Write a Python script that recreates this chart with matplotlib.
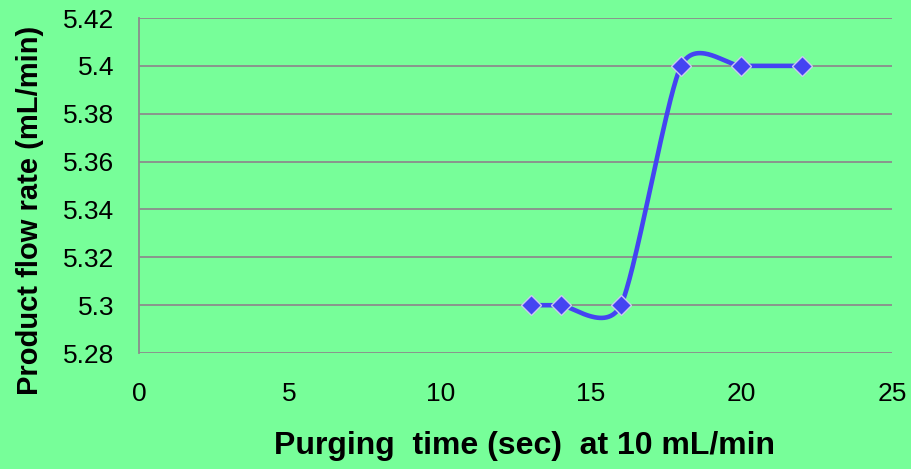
import numpy as np
import matplotlib
matplotlib.use("Agg")
import matplotlib.pyplot as plt

# Measured data
purge_time = [13, 14, 16, 18, 20, 22]
flow_rate = [5.30, 5.30, 5.30, 5.40, 5.40, 5.40]

x_ticks = [0, 5, 10, 15, 20, 25]
y_ticks = [5.28, 5.30, 5.32, 5.34, 5.36, 5.38, 5.40, 5.42]
y_tick_labels = ["5.28", "5.3", "5.32", "5.34", "5.36", "5.38", "5.4", "5.42"]

BG = "#77FE99"
LINE = "#4444F2"
GRID = "#8C8C8C"


def smooth_curve(xs, ys, k=0.12, n=60):
    """Piecewise cubic Bezier through the points (spreadsheet-style smoothing)."""
    p = np.column_stack([xs, ys]).astype(float)
    out = []
    m = len(p)
    for i in range(m - 1):
        p0 = p[i - 1] if i > 0 else p[i]
        p1 = p[i]
        p2 = p[i + 1]
        p3 = p[i + 2] if i + 2 < m else p[i + 1]
        c1 = p1 + k * (p2 - p0)
        c2 = p2 - k * (p3 - p1)
        t = np.linspace(0, 1, n)[:, None]
        seg = ((1 - t) ** 3) * p1 + 3 * ((1 - t) ** 2) * t * c1 \
            + 3 * (1 - t) * t ** 2 * c2 + t ** 3 * p2
        out.append(seg if i == 0 else seg[1:])
    arr = np.vstack(out)
    return arr[:, 0], arr[:, 1]


plt.rcParams["font.family"] = ["Liberation Sans", "DejaVu Sans"]

fig = plt.figure(figsize=(9.11, 4.69), dpi=100, facecolor=BG)
ax = fig.add_axes([0.1526, 0.2473, 0.979 - 0.1526, 0.9616 - 0.2473])
ax.set_facecolor(BG)

# Scale y so the Bezier is built in a visually even space
y_scale = (2393.0 / 30.1)
sx, sy = smooth_curve(np.array(purge_time, float),
                      np.array(flow_rate, float) * y_scale)
ax.plot(sx, sy / y_scale, color=LINE, lw=3.3, solid_capstyle="round", zorder=3)
ax.plot(purge_time, flow_rate, linestyle="none", marker="D", markersize=10.5,
        markerfacecolor=LINE, markeredgecolor="#C9C9EE", markeredgewidth=1.0,
        zorder=4)

ax.set_xlim(0, 25)
ax.set_ylim(5.28, 5.42)
ax.set_xticks(x_ticks)
ax.set_xticklabels([str(v) for v in x_ticks])
ax.set_yticks(y_ticks)
ax.set_yticklabels(y_tick_labels)

for yv in y_ticks:
    ax.axhline(yv, color=GRID, lw=1.3, zorder=1)

for side in ("top", "right", "bottom"):
    ax.spines[side].set_visible(False)
ax.spines["left"].set_color(GRID)
ax.spines["left"].set_linewidth(1.3)

ax.tick_params(axis="both", length=0, labelsize=19, colors="black")
ax.tick_params(axis="x", pad=21)
ax.tick_params(axis="y", pad=18)

ax.set_xlabel("Purging  time (sec)  at 10 mL/min", fontsize=23,
              fontweight="bold")
ax.set_ylabel("Product flow rate (mL/min)", fontsize=21, fontweight="bold")
ax.xaxis.set_label_coords(0.5126, -0.233)
ax.yaxis.set_label_coords(-0.126, 0.427)

fig.savefig("out.png", dpi=100, facecolor=BG)
